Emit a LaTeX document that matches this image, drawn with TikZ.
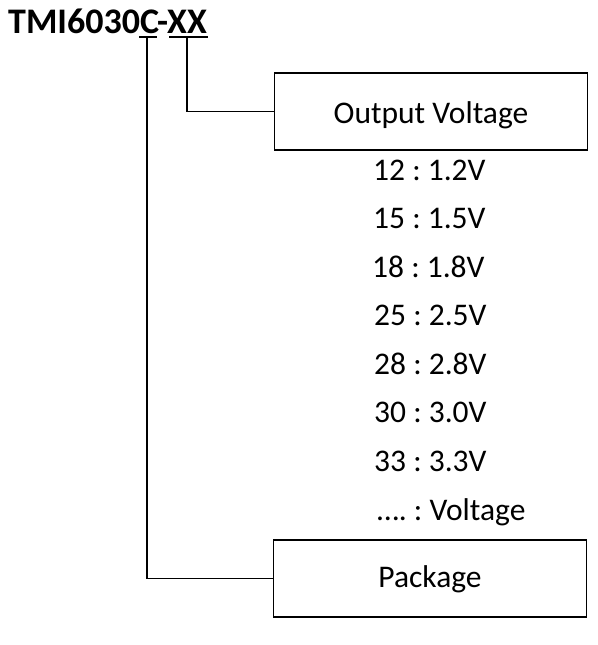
\documentclass[tikz,border=0pt]{standalone}
\usepackage{fontspec}
\setmainfont{Carlito}
\begin{document}
\frenchspacing
\begin{tikzpicture}[x=1pt,y=-1pt,
  box/.style={draw,line width=1.6pt,minimum width=313pt,minimum height=77pt,inner sep=0pt,font=\fontsize{31.5}{36}\selectfont,text depth=0pt},
  item/.style={anchor=base west,inner sep=0pt,font=\fontsize{31.5}{36}\selectfont},
  conn/.style={line width=1.6pt}]
\useasboundingbox (0,0) rectangle (597,645);
\node[anchor=base west,inner sep=0pt,font=\fontsize{36}{42}\selectfont\bfseries] (title) at (8,33) {TMI6030C-XX};
\coordinate (cl) at (139,37); \coordinate (cr) at (157,37);
\coordinate (xl) at (169,37); \coordinate (xr) at (208,37);
\draw[conn] (cl) -- (cr);
\draw[conn] (xl) -- (xr);
\node[box,text height=23pt] (ov) at (431,111.5) {Output Voltage};
\node[box,text height=17pt] (pk) at (430,578.5) {Package};
\coordinate (ct) at (147,37);
\coordinate (xt) at (187,37);
\draw[conn] (xt) |- (ov.west);
\draw[conn] (ct) |- (pk.west);
\node[item] (i1) at (373,180) {12 : 1.2V};
\node[item] (i2) at (373,228) {15 : 1.5V};
\node[item] (i3) at (372,277) {18 : 1.8V};
\node[item] (i4) at (374,325) {25 : 2.5V};
\node[item] (i5) at (374,374) {28 : 2.8V};
\node[item] (i6) at (374,422) {30 : 3.0V};
\node[item] (i7) at (374,471) {33 : 3.3V};
\node[item] (i8) at (377,520) {…. : Voltage};
\end{tikzpicture}
\end{document}
